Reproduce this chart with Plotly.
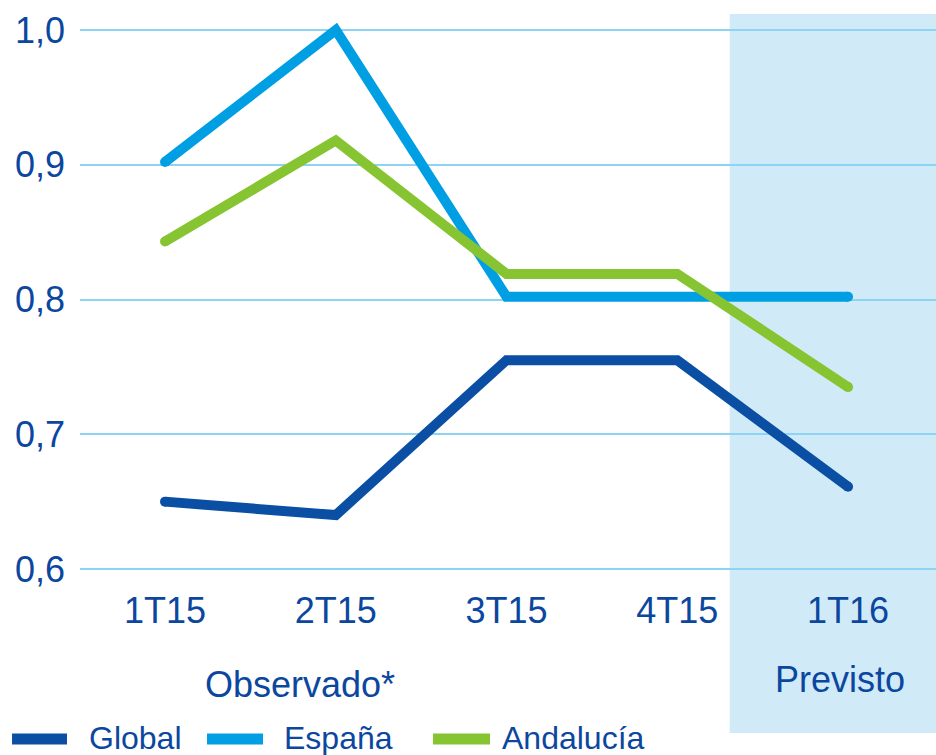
import plotly.graph_objects as go

categories = ["1T15", "2T15", "3T15", "4T15", "1T16"]
global_vals = [0.650, 0.640, 0.755, 0.755, 0.661]
espana_vals = [0.902, 1.000, 0.802, 0.802, 0.802]
andalucia_vals = [0.843, 0.918, 0.819, 0.819, 0.735]
y_ticks = [0.6, 0.7, 0.8, 0.9, 1.0]
series_names = ["Global", "España", "Andalucía"]

TXT = "#0b479e"
colors = ["#0a4fa3", "#009fe3", "#86c531"]
values = [global_vals, espana_vals, andalucia_vals]

x_idx = list(range(len(categories)))
cap_sizes = [10 if i in (0, len(x_idx) - 1) else 0 for i in x_idx]
fig = go.Figure()
for name, vals, col in zip(series_names, values, colors):
    fig.add_trace(go.Scatter(x=x_idx, y=vals, name=name, mode="lines+markers",
                             line=dict(color=col, width=10),
                             marker=dict(color=col, size=cap_sizes, opacity=1,
                                         line=dict(width=0)),
                             showlegend=False))

# shaded forecast band
fig.add_shape(type="rect", xref="paper", yref="paper", x0=0.759, x1=1.0,
              y0=-0.2816, y1=1.0, fillcolor="#d0eaf8", line=dict(width=0), layer="below")

fig.add_annotation(text="Observado*", xref="x", yref="paper", x=0.79, y=-0.196,
                   yanchor="middle", showarrow=False, font=dict(size=36, color=TXT))
fig.add_annotation(text="Previsto", xref="x", yref="paper", x=3.953, y=-0.187,
                   yanchor="middle", showarrow=False, font=dict(size=36, color=TXT))

# manual legend (layout positions)
leg_sym = [(-0.0794, -0.0152), (0.1484, 0.2138), (0.4124, 0.4790)]
leg_txt = [0.0085, 0.2360, 0.4910]
leg_y = -0.2923
for name, col, (s0, s1), tx in zip(series_names, colors, leg_sym, leg_txt):
    fig.add_shape(type="line", xref="paper", yref="paper", x0=s0, x1=s1,
                  y0=leg_y, y1=leg_y, line=dict(color=col, width=11))
    fig.add_annotation(text=name, xref="paper", yref="paper", x=tx, y=leg_y + 0.001,
                       xanchor="left", yanchor="middle", showarrow=False,
                       font=dict(size=32, color=TXT))

fig.update_layout(
    width=936, height=755,
    margin=dict(l=80, r=0, t=14, b=180),
    paper_bgcolor="white", plot_bgcolor="rgba(0,0,0,0)",
    separators=",.",
    font=dict(family="Liberation Sans, Arial, sans-serif", color=TXT),
    showlegend=False,
    hovermode=False,
    xaxis=dict(range=[-0.498, 4.515], tickvals=x_idx, ticktext=categories,
               showgrid=False, zeroline=False, showline=False,
               tickfont=dict(size=36, color=TXT), ticklabelstandoff=11),
    yaxis=dict(range=[0.59555, 1.01187], tickvals=y_ticks, tickformat=".1f",
               showgrid=True, gridcolor="#8dd3f4", gridwidth=2, zeroline=False,
               showline=False, tickfont=dict(size=36, color=TXT),
               ticklabelstandoff=14),
)

fig.write_html("out.html", config={"displayModeBar": False},
               post_script="document.body.style.margin='0';document.body.style.overflow='hidden';")
